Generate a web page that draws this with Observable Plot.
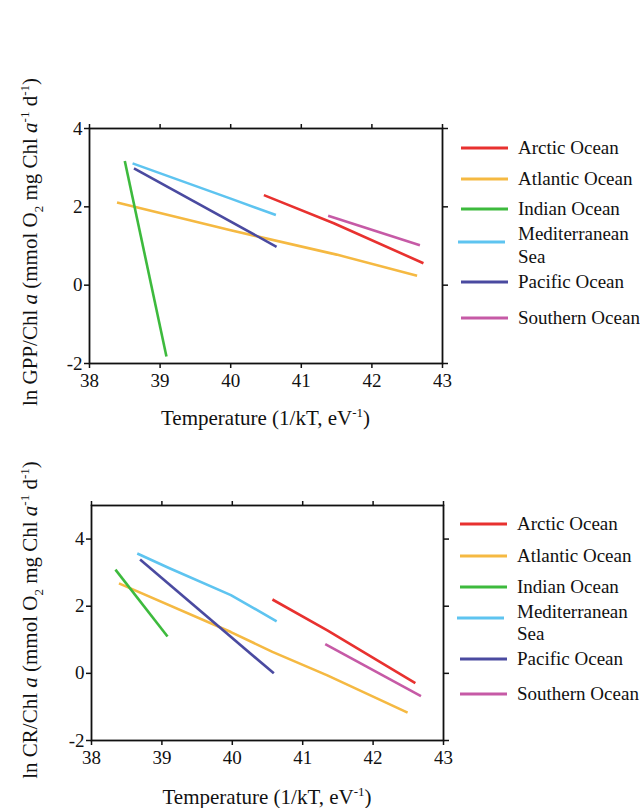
<!DOCTYPE html>
<html>
<head>
<meta charset="utf-8">
<script src="https://cdn.jsdelivr.net/npm/d3@7"></script>
<script src="https://cdn.jsdelivr.net/npm/@observablehq/plot@0.6"></script>
<style>
  body { margin: 0; background: #fff; font-family: "Liberation Serif", "Times New Roman", serif; }
  .panel { position: relative; width: 640px; }
  .legend { position: absolute; width: 180px; height: 10px; font-size: 19px; color: #111; }
  .legend svg { position: absolute; left: 0; }
  .legend span { position: absolute; left: 58px; line-height: 23px; white-space: nowrap; }
</style>
</head>
<body>
<div id="chart"></div>
<script>
// ---- Data ----
const oceans = ["Arctic Ocean", "Atlantic Ocean", "Indian Ocean", "Mediterranean Sea", "Pacific Ocean", "Southern Ocean"];
const colors = ["#e8312f", "#f5b942", "#3dba3d", "#5ec4f0", "#4a4aa0", "#c65aa6"];

// Panel A: ln GPP/Chl a vs 1/kT
const gppArctic   = [[40.47, 2.30], [41.46, 1.58], [42.73, 0.56]];
const gppAtlantic = [[38.39, 2.11], [40.00, 1.40], [41.50, 0.78], [42.64, 0.24]];
const gppIndian   = [[38.50, 3.17], [39.09, -1.82]];
const gppMed      = [[38.61, 3.11], [40.00, 2.21], [40.64, 1.79]];
const gppPacific  = [[38.63, 2.98], [40.65, 0.98]];
const gppSouthern = [[41.38, 1.77], [42.68, 1.02]];

// Panel B: ln CR/Chl a vs 1/kT
const crArctic   = [[40.57, 2.20], [41.35, 1.28], [42.60, -0.29]];
const crAtlantic = [[38.39, 2.68], [39.98, 1.23], [40.57, 0.64], [41.35, -0.06], [42.49, -1.17]];
const crIndian   = [[38.34, 3.09], [39.08, 1.10]];
const crMed      = [[38.65, 3.57], [39.10, 3.14], [39.98, 2.33], [40.63, 1.55]];
const crPacific  = [[38.69, 3.39], [40.59, 0.00]];
const crSouthern = [[41.32, 0.87], [42.68, -0.68]];

const xTicks = [38, 39, 40, 41, 42, 43];
const yTicks = [-2, 0, 2, 4];

function toRows(seriesList) {
  const rows = [];
  seriesList.forEach((pts, i) => pts.forEach(([x, y]) => rows.push({ ocean: oceans[i], x, y })));
  return rows;
}

function makePanel(cfg) {
  const rows = toRows(cfg.series);
  const plot = Plot.plot({
    width: 640,
    height: cfg.height,
    marginLeft: cfg.ml, marginRight: 640 - cfg.mrEdge,
    marginTop: cfg.mt, marginBottom: cfg.mb,
    style: { fontFamily: "Liberation Serif, serif", fontSize: "19px", color: "#111", background: "white" },
    x: { domain: [38, 43], ticks: xTicks, label: null },
    y: { domain: cfg.yDomain, ticks: yTicks, label: null },
    color: { domain: oceans, range: colors },
    marks: [
      Plot.line(rows, { x: "x", y: "y", z: "ocean", stroke: "ocean", strokeWidth: 2.6, strokeLinecap: "butt" }),
      Plot.frame({ stroke: "#111", strokeWidth: 1.8 }),
      Plot.axisX({ anchor: "bottom", ticks: xTicks, tickSize: 5, tickPadding: 5, tickFormat: d => String(d), label: null, strokeWidth: 1.5 }),
      Plot.axisX({ anchor: "top", ticks: xTicks, tickSize: 5, tickFormat: () => "", label: null, strokeWidth: 1.5 }),
      Plot.axisY({ anchor: "left", ticks: yTicks, tickSize: 5, tickPadding: 2, tickFormat: d => String(d), label: null, strokeWidth: 1.5 }),
      Plot.axisY({ anchor: "right", ticks: yTicks, tickSize: 5, tickFormat: () => "", label: null, strokeWidth: 1.5 })
    ]
  });

  const svg = d3.select(plot);
  // x axis label
  const xl = svg.append("text")
    .attr("x", (cfg.ml + cfg.mrEdge) / 2).attr("y", cfg.xLabelY)
    .attr("text-anchor", "middle").attr("font-size", 21).attr("fill", "#111");
  xl.append("tspan").text("Temperature (1/kT, eV");
  xl.append("tspan").attr("font-size", 13).attr("dy", -8).text("-1");
  xl.append("tspan").attr("dy", 8).text(")");

  // y axis label (rotated)
  const yl = svg.append("text")
    .attr("transform", `translate(${cfg.yLabelX},${cfg.yLabelY}) rotate(-90)`)
    .attr("text-anchor", "middle").attr("font-size", 21).attr("fill", "#111");
  yl.append("tspan").text(`ln ${cfg.measure}/Chl `);
  yl.append("tspan").attr("font-style", "italic").text("a");
  yl.append("tspan").text(" (mmol O");
  yl.append("tspan").attr("font-size", 13).attr("dy", 6).text("2");
  yl.append("tspan").attr("dy", -6).text(" mg Chl ");
  yl.append("tspan").attr("font-style", "italic").text("a");
  yl.append("tspan").attr("font-size", 13).attr("dy", -8).text("-1");
  yl.append("tspan").attr("dy", 8).text(" d");
  yl.append("tspan").attr("font-size", 13).attr("dy", -8).text("-1");
  yl.append("tspan").attr("dy", 8).text(")");

  const wrap = document.createElement("div");
  wrap.className = "panel";
  wrap.style.height = cfg.height + "px";
  wrap.appendChild(plot);

  // legend
  const leg = document.createElement("div");
  leg.className = "legend";
  leg.style.left = cfg.legX + "px";
  leg.style.top = "0px";
  oceans.forEach((name, i) => {
    const yy = cfg.legY[i];
    const line = document.createElementNS("http://www.w3.org/2000/svg", "svg");
    line.setAttribute("width", 50); line.setAttribute("height", 6);
    line.style.top = (yy - 3) + "px";
    line.style.left = (name === "Mediterranean Sea" ? -3 : 0) + "px";
    const l = document.createElementNS("http://www.w3.org/2000/svg", "line");
    l.setAttribute("x1", 1); l.setAttribute("x2", 48);
    l.setAttribute("y1", 3); l.setAttribute("y2", 3);
    l.setAttribute("stroke", colors[i]); l.setAttribute("stroke-width", 3);
    line.appendChild(l);
    leg.appendChild(line);
    if (name === "Mediterranean Sea") {
      const s1 = document.createElement("span"); s1.textContent = "Mediterranean";
      s1.style.top = (cfg.medY[0] - 12) + "px";
      const s2 = document.createElement("span"); s2.textContent = "Sea";
      s2.style.top = (cfg.medY[1] - 12) + "px";
      leg.appendChild(s1); leg.appendChild(s2);
    } else {
      const s = document.createElement("span"); s.textContent = name;
      s.style.top = (yy - 12) + "px";
      leg.appendChild(s);
    }
  });
  wrap.appendChild(leg);
  return wrap;
}

const chart = document.getElementById("chart");
chart.appendChild(makePanel({
  series: [gppArctic, gppAtlantic, gppIndian, gppMed, gppPacific, gppSouthern],
  measure: "GPP", height: 440, ml: 89, mrEdge: 442, mt: 128, mb: 77,
  yDomain: [-2, 4], xLabelY: 425, yLabelX: 37, yLabelY: 242,
  legX: 460, legY: [148, 179, 209, 242, 282, 318], medY: [234, 257]
}));
chart.appendChild(makePanel({
  series: [crArctic, crAtlantic, crIndian, crMed, crPacific, crSouthern],
  measure: "CR", height: 368, ml: 91, mrEdge: 443, mt: 65, mb: 68,
  yDomain: [-2, 5], xLabelY: 364, yLabelX: 37, yLabelY: 180,
  legX: 459, legY: [84, 116, 147, 178, 219, 254], medY: [172, 194]
}));
</script>
</body>
</html>
